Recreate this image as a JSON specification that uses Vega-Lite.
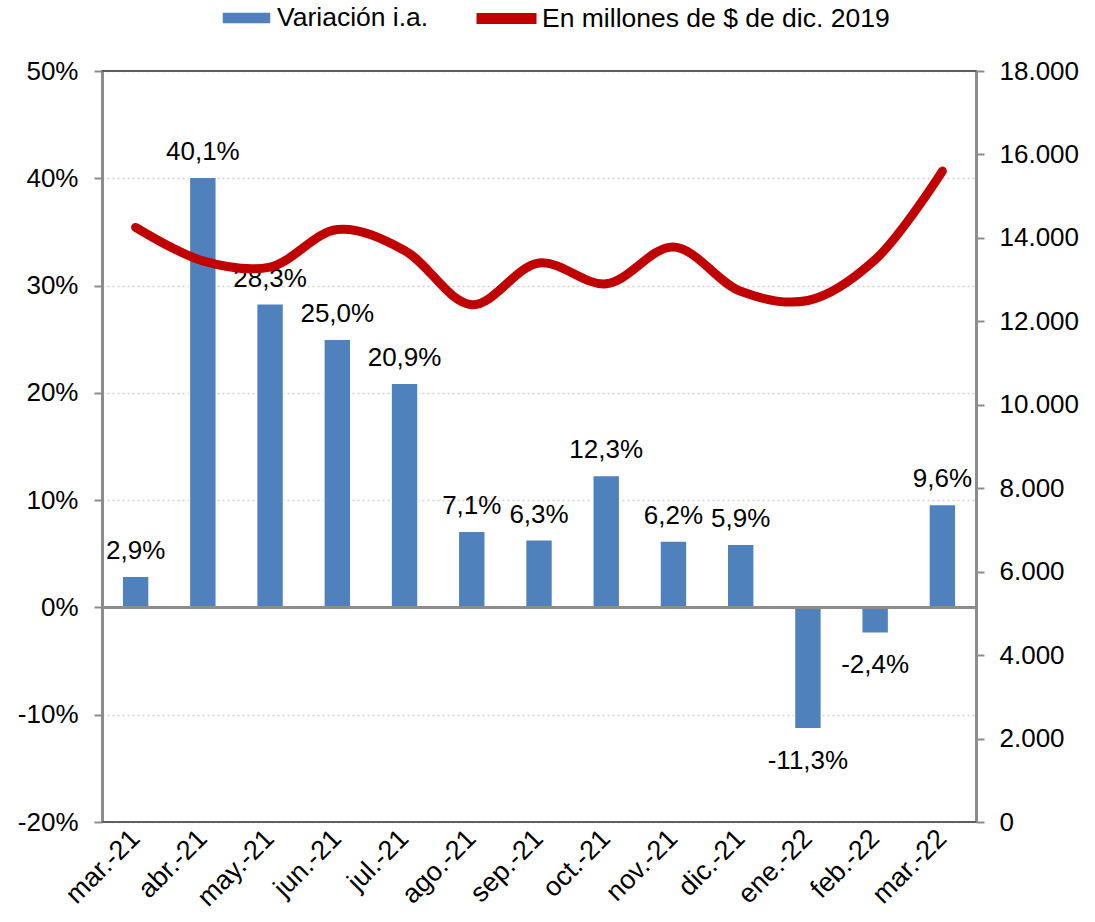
{
  "$schema": "https://vega.github.io/schema/vega-lite/v6.json",
  "autosize": "none",
  "width": 874,
  "height": 751,
  "padding": {"left": 102, "top": 71, "right": 119, "bottom": 100},
  "background": "white",
  "config": {
    "locale": {"number": {"decimal": ",", "thousands": ".", "grouping": [3], "currency": ["$", ""], "minus": "-"}},
    "font": "Liberation Sans",
    "view": {"stroke": "#6b6b6b", "strokeWidth": 2},
    "axisX": {"title": null, "domain": false, "ticks": false, "labelAngle": -45, "labelAlign": "right", "labelBaseline": "middle", "labelPadding": 12, "labelFontSize": 27, "labelColor": "black", "labelFont": "Liberation Sans"},
    "legend": {"orient": "none", "labelFont": "Liberation Sans", "labelFontSize": 26.5, "labelColor": "black", "title": null, "padding": 0, "labelLimit": 600}
  },
  "data": {"values": [
    {"mes": "mar.-21", "var": 0.029, "mill": 14250},
    {"mes": "abr.-21", "var": 0.401, "mill": 13450},
    {"mes": "may.-21", "var": 0.283, "mill": 13300},
    {"mes": "jun.-21", "var": 0.250, "mill": 14200},
    {"mes": "jul.-21", "var": 0.209, "mill": 13700},
    {"mes": "ago.-21", "var": 0.071, "mill": 12400},
    {"mes": "sep.-21", "var": 0.063, "mill": 13400},
    {"mes": "oct.-21", "var": 0.123, "mill": 12900},
    {"mes": "nov.-21", "var": 0.062, "mill": 13780},
    {"mes": "dic.-21", "var": 0.059, "mill": 12720},
    {"mes": "ene.-22", "var": -0.113, "mill": 12500},
    {"mes": "feb.-22", "var": -0.024, "mill": 13480},
    {"mes": "mar.-22", "var": 0.096, "mill": 15600}
  ]},
  "layer": [
    {
      "encoding": {
        "y": {"type": "quantitative",
          "scale": {"domain": [-0.2, 0.5], "nice": false, "zero": false},
          "axis": {"title": null, "values": [-0.2, -0.1, 0, 0.1, 0.2, 0.3, 0.4, 0.5], "format": ".0%",
            "labelFontSize": 26, "labelColor": "black", "labelFont": "Liberation Sans", "labelPadding": 16,
            "tickSize": 8, "tickColor": "#8c8c8c", "tickWidth": 2,
            "domainColor": "#8c8c8c", "domainWidth": 3,
            "grid": true, "gridColor": "#d0d0d0", "gridDash": [2, 3], "gridWidth": 1.5}}
      },
      "layer": [
        {
          "mark": {"type": "rule", "color": "#5f5f5f", "strokeWidth": 2},
          "encoding": {"y": {"datum": 0.5}}
        },
        {
          "mark": {"type": "rule", "color": "#5f5f5f", "strokeWidth": 2},
          "encoding": {"y": {"datum": -0.2}}
        },
        {
          "mark": {"type": "bar", "stroke": "white", "strokeWidth": 1.5},
          "encoding": {
            "x": {"field": "mes", "type": "nominal", "sort": null, "title": null, "scale": {"paddingInner": 0.6, "paddingOuter": 0.3}},
            "y": {"field": "var"},
            "color": {"datum": "Variación i.a.", "type": "nominal", "scale": {"range": ["#4F81BD"]},
              "legend": {"legendX": 119, "legendY": -78.5, "symbolType": "M-1,-0.245H1V0.245H-1Z", "symbolSize": 2401, "labelOffset": 5}}
          }
        },
        {
          "mark": {"type": "rule", "color": "#8c8c8c", "strokeWidth": 2},
          "encoding": {"y": {"datum": 0}}
        },
        {
          "transform": [{"filter": "datum['var'] >= 0"}],
          "mark": {"type": "text", "fontSize": 26, "font": "Liberation Sans", "baseline": "alphabetic", "dy": -17, "color": "black"},
          "encoding": {
            "x": {"field": "mes", "type": "nominal", "sort": null, "title": null},
            "y": {"field": "var"}, "text": {"field": "var", "format": ".1%"}}
        },
        {
          "transform": [{"filter": "datum['var'] < 0"}],
          "mark": {"type": "text", "fontSize": 26, "font": "Liberation Sans", "baseline": "alphabetic", "dy": 40, "color": "black"},
          "encoding": {
            "x": {"field": "mes", "type": "nominal", "sort": null, "title": null},
            "y": {"field": "var"}, "text": {"field": "var", "format": ".1%"}}
        }
      ]
    },
    {
      "mark": {"type": "line", "strokeWidth": 9, "interpolate": "catmull-rom", "strokeCap": "round", "strokeJoin": "round"},
      "encoding": {
        "x": {"field": "mes", "type": "nominal", "sort": null, "title": null},
        "y": {"field": "mill", "type": "quantitative",
          "scale": {"domain": [0, 18000], "nice": false},
          "axis": {"title": null, "orient": "right", "values": [0, 2000, 4000, 6000, 8000, 10000, 12000, 14000, 16000, 18000], "format": ",.0f",
            "labelFontSize": 26, "labelColor": "black", "labelFont": "Liberation Sans", "labelPadding": 15,
            "tickSize": 8, "tickColor": "#8c8c8c", "tickWidth": 2,
            "domainColor": "#8c8c8c", "domainWidth": 3, "grid": false}},
        "stroke": {"datum": "En millones de $ de dic. 2019", "type": "nominal", "scale": {"range": ["#C00000"]},
          "legend": {"legendX": 369, "legendY": -88, "symbolType": "stroke", "symbolSize": 3600, "symbolStrokeWidth": 11, "labelOffset": 0}}
      }
    }
  ],
  "resolve": {"scale": {"y": "independent"}}
}
